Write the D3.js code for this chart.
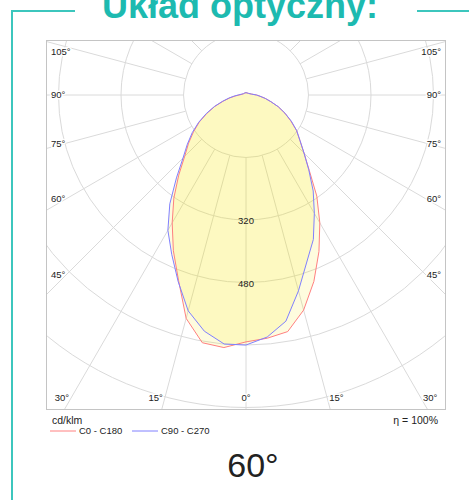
<!DOCTYPE html>
<html>
<head>
<meta charset="utf-8">
<script src="https://cdn.jsdelivr.net/npm/d3@7"></script>
<style>
  body { margin: 0; background: #fff; }
  svg { display: block; font-family: "Liberation Sans", Arial, sans-serif; }
</style>
</head>
<body>
<div id="container"></div>
<script>
// gamma angles (deg, 0 = straight down)
const gammas = [0, 5, 10, 15, 20, 25, 30, 35, 40, 45, 50, 55, 60, 65, 70, 75, 80, 85, 90, 100, 120, 150, 180];

// intensity values cd/klm, per half-plane
const c0   = [632, 625, 615, 570, 508, 442, 378, 316, 252, 210, 180, 158, 132, 110, 88, 66, 50, 36, 27, 14, 8, 6, 6];
const c180 = [632, 649, 644, 592, 505, 440, 378, 322, 268, 222, 192, 164, 138, 110, 85, 60, 42, 27, 18, 10, 7, 6, 6];
const c90  = [640, 622, 588, 519, 455, 408, 350, 300, 250, 210, 180, 158, 134, 110, 88, 66, 50, 36, 27, 14, 8, 6, 6];
const c270 = [640, 640, 614, 572, 508, 450, 400, 340, 277, 228, 196, 168, 140, 112, 86, 62, 44, 30, 20, 12, 7, 6, 6];

// grid
const rings = [160, 320, 480, 640, 800, 960];
const ringLabels = [320, 480];
const spokes = [0, 15, 30, 45, 60, 75, 90, 105, 120, 135, 150, 165, 180, 195, 210, 225, 240, 255, 270, 285, 300, 315, 330, 345];
const angleTicks = [0, 15, 30, 45, 60, 75, 90, 105];

const width = 469;
const height = 500;

// plot box
const box = { x0: 46, y0: 40, x1: 446, y1: 410 };
const cx = 246;
const cy = 95;

const svg = d3.select('#container')
              .append('svg')
              .attr('width', width)
              .attr('height', height);

// teal frame + title
const teal = '#1dbab0';
svg.append('path')
   .attr('d', 'M75,11 H12 V520')
   .attr('fill', 'none')
   .attr('stroke', '#3cc6bd')
   .attr('stroke-width', 2);
svg.append('path')
   .attr('d', 'M417,11 H480')
   .attr('fill', 'none')
   .attr('stroke', '#3cc6bd')
   .attr('stroke-width', 2);
svg.append('text')
   .attr('x', 240)
   .attr('y', 17.5)
   .attr('text-anchor', 'middle')
   .attr('font-size', 36)
   .attr('font-weight', 'bold')
   .attr('fill', teal)
   .text('Układ optyczny:');

// radius scale
const r = d3.scaleLinear()
            .domain([0, 160])
            .range([0, 62.5]);

svg.append('clipPath')
   .attr('id', 'plotclip')
   .append('rect')
   .attr('x', box.x0)
   .attr('y', box.y0)
   .attr('width', box.x1 - box.x0)
   .attr('height', box.y1 - box.y0);

const plot = svg.append('g').attr('clip-path', 'url(#plotclip)');
const g = plot.append('g').attr('transform', `translate(${cx},${cy})`);

// rings
g.selectAll('circle.ring')
 .data(rings)
 .enter()
 .append('circle')
 .attr('class', 'ring')
 .attr('r', d => r(d))
 .attr('fill', 'none')
 .attr('stroke', '#dadada')
 .attr('stroke-width', 1);

// spokes, start at first ring
const toRad = d => d * Math.PI / 180;
g.selectAll('line.spoke')
 .data(spokes)
 .enter()
 .append('line')
 .attr('class', 'spoke')
 .attr('x1', d => r(rings[0]) * Math.sin(toRad(d)))
 .attr('y1', d => r(rings[0]) * Math.cos(toRad(d)))
 .attr('x2', d => 600 * Math.sin(toRad(d)))
 .attr('y2', d => 600 * Math.cos(toRad(d)))
 .attr('stroke', '#dadada')
 .attr('stroke-width', 1);

// curves: right half uses angle PI - gamma, left half PI + gamma
function halfPlanes(right, left) {
    const pts = [];
    for (let i = gammas.length - 1; i >= 0; i--) pts.push([Math.PI + toRad(gammas[i]), r(left[i])]);
    for (let i = 1; i < gammas.length; i++) pts.push([Math.PI - toRad(gammas[i]), r(right[i])]);
    return pts;
}
const radial = d3.lineRadial()
                 .angle(d => d[0])
                 .radius(d => d[1])
                 .curve(d3.curveLinearClosed);

const curves = [
    { pts: halfPlanes(c0, c180), color: '#ff8080' },
    { pts: halfPlanes(c90, c270), color: '#8080ff' }
];

g.selectAll('path.fill')
 .data(curves)
 .enter()
 .append('path')
 .attr('class', 'fill')
 .attr('d', d => radial(d.pts))
 .attr('fill', '#fbe800')
 .attr('fill-opacity', 0.13)
 .attr('stroke', 'none');

g.selectAll('path.curve')
 .data(curves)
 .enter()
 .append('path')
 .attr('class', 'curve')
 .attr('d', d => radial(d.pts))
 .attr('fill', 'none')
 .attr('stroke', d => d.color)
 .attr('stroke-width', 1);

// ring labels along 0 deg
g.selectAll('text.rl')
 .data(ringLabels)
 .enter()
 .append('text')
 .attr('class', 'rl')
 .attr('x', 0)
 .attr('y', d => r(d) + 1)
 .attr('dy', '0.35em')
 .attr('text-anchor', 'middle')
 .attr('font-size', 9.5)
 .attr('fill', '#222')
 .text(d => d);

// plot border
svg.append('rect')
   .attr('x', box.x0 + 0.5)
   .attr('y', box.y0 + 0.5)
   .attr('width', box.x1 - box.x0 - 1)
   .attr('height', box.y1 - box.y0 - 1)
   .attr('fill', 'none')
   .attr('stroke', '#c4c4c4')
   .attr('stroke-width', 1);

// angle labels at the edges
const lab = [];
angleTicks.forEach(a => {
    [-1, 1].forEach(side => {
        if (a === 0 && side === 1) return;
        const t = toRad(a);
        const edgeX = side < 0 ? 66 : 426;
        let y = cy + Math.abs(cx - edgeX) / Math.tan(t);
        if (a === 90) y = cy;
        if (a > 0 && y <= 398) {
            if (y < box.y0) return;
            lab.push({ a, x: side < 0 ? 51 : 441, y: Math.max(y, 52), anchor: side < 0 ? 'start' : 'end' });
        } else {
            const x = cx + side * (398 - cy) * Math.tan(t);
            lab.push({ a, x: a === 0 ? cx : x + side * 2, y: 398, anchor: a === 0 ? 'middle' : (side < 0 ? 'end' : 'start') });
        }
    });
});

svg.selectAll('text.al')
   .data(lab)
   .enter()
   .append('text')
   .attr('class', 'al')
   .attr('x', d => d.x)
   .attr('y', d => d.y)
   .attr('dy', '0.35em')
   .attr('text-anchor', d => d.anchor)
   .attr('font-size', 9.5)
   .attr('fill', '#222')
   .attr('stroke', '#fff')
   .attr('stroke-width', 3)
   .attr('paint-order', 'stroke')
   .text(d => d.a + '°');

// units + efficiency
svg.append('text')
   .attr('x', 52)
   .attr('y', 424)
   .attr('font-size', 10.5)
   .attr('fill', '#222')
   .text('cd/klm');
svg.append('text')
   .attr('x', 438)
   .attr('y', 424)
   .attr('text-anchor', 'end')
   .attr('font-size', 10.5)
   .attr('fill', '#222')
   .text('η =  100%');

// legend
const legend = [
    { label: 'C0 - C180', color: '#ff8080', x: 50 },
    { label: 'C90 - C270', color: '#8080ff', x: 132 }
];
const lg = svg.selectAll('g.lg')
              .data(legend)
              .enter()
              .append('g')
              .attr('class', 'lg')
              .attr('transform', d => `translate(${d.x},431)`);
lg.append('line')
  .attr('x1', 0)
  .attr('x2', 26)
  .attr('stroke', d => d.color)
  .attr('stroke-width', 1);
lg.append('text')
  .attr('x', 29)
  .attr('dy', '0.35em')
  .attr('font-size', 9.5)
  .attr('fill', '#222')
  .text(d => d.label);

// beam angle
svg.append('text')
   .attr('x', 253)
   .attr('y', 477)
   .attr('text-anchor', 'middle')
   .attr('font-size', 34)
   .attr('fill', '#222')
   .text('60°');
</script>
</body>
</html>
